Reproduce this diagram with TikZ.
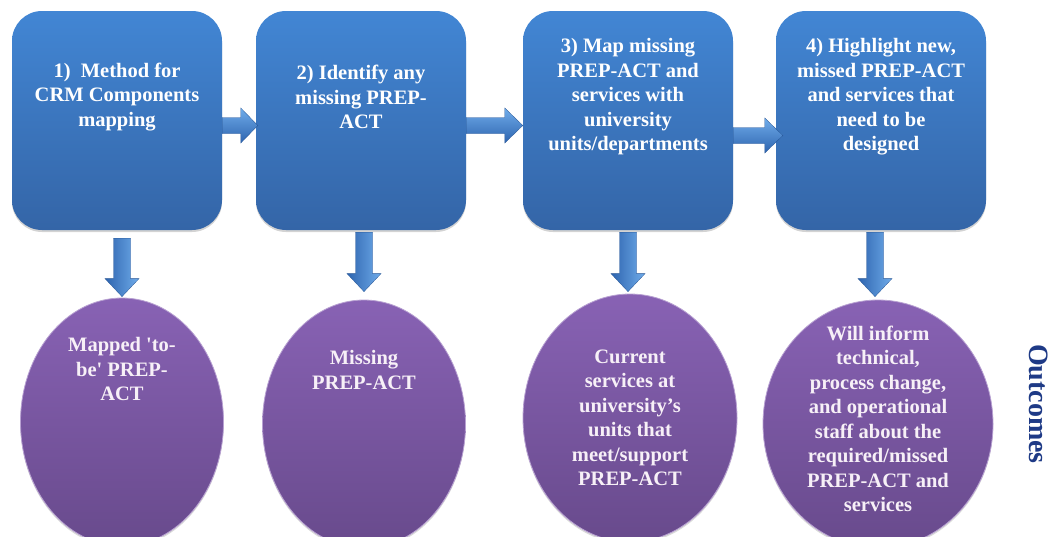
\documentclass[tikz,border=0pt]{standalone}
\usepackage{fontspec}
\setmainfont{Liberation Serif}[Ligatures = TeXOff]
\usetikzlibrary{shapes.geometric, calc, shadows}
\definecolor{boxtop}{RGB}{66,134,212}
\definecolor{boxbottom}{RGB}{52,101,167}
\definecolor{ovaltop}{RGB}{136,98,180}
\definecolor{ovalbottom}{RGB}{104,74,140}
\definecolor{arrowdark}{RGB}{45,100,175}
\definecolor{arrowmid}{RGB}{62,126,205}
\definecolor{arrowlight}{RGB}{112,172,234}
\definecolor{outcomeblue}{RGB}{30,58,134}
\newcommand{\rightblock}[3]{\path[blockR] let \p1 = #1, \p2 = #2 in (\x1, \y2 + 8pt) -- (\x2 - #3, \y2 + 8pt) -- (\x2 - #3, \y2 + 17.5pt) -- (\x2, \y2) -- (\x2 - #3, \y2 - 17.5pt) -- (\x2 - #3, \y2 - 8pt) -- (\x1, \y2 - 8pt) -- cycle;}
\newcommand{\downblock}[2]{\path[blockD] let \p1 = #1, \p2 = #2 in (\x1 - 8.5pt, \y1) -- (\x1 + 8.5pt, \y1) -- (\x1 + 8.5pt, \y2 + 18pt) -- (\x1 + 17pt, \y2 + 18pt) -- (\x1, \y2) -- (\x1 - 17pt, \y2 + 18pt) -- (\x1 - 8.5pt, \y2 + 18pt) -- cycle;}
\begin{document}
\begin{tikzpicture}[x = 1pt, y = -1pt,
	stepbox/.style = {rounded corners = 30pt, minimum width = 210pt, minimum height = 219pt, inner sep = 0pt, top color = boxtop, bottom color = boxbottom, drop shadow = {opacity = 0.35, shadow xshift = 0pt, shadow yshift = -2pt}},
	steptext/.style = {align = center, text = white, font = \bfseries\fontsize{20.5}{24.5}\selectfont},
	oval/.style = {ellipse, minimum height = 248pt, inner sep = 0pt, top color = ovaltop, bottom color = ovalbottom, draw = ovaltop!60!white, line width = 0.8pt, drop shadow = {opacity = 0.3, shadow xshift = 0pt, shadow yshift = -2pt}},
	ovaltext/.style = {align = center, text = white!94!violet, font = \bfseries\fontsize{20.5}{24.5}\selectfont},
	blockR/.style = {top color = arrowlight, middle color = arrowmid, bottom color = arrowdark, draw = arrowdark!85!black, line width = 0.3pt},
	blockD/.style = {left color = arrowdark, middle color = arrowmid, right color = arrowlight, draw = arrowdark!85!black, line width = 0.3pt}]
	\useasboundingbox (0, 0) rectangle (1052, 536);
	\clip (0, 0) rectangle (1052, 536);
	\node[stepbox] (b1) at (117, 120.5) {};
		\node[steptext] (t1) at (117, 97) {1)\ \ Method for\\CRM Components\\mapping};
	\node[stepbox] (b2) at (361, 120.5) {};
		\node[steptext] (t2) at (361, 97) {2) Identify any\\missing PREP-\\ACT};
	\node[stepbox] (b3) at (628, 120.5) {};
		\node[steptext] (t3) at (628, 97) {3) Map missing\\PREP-ACT and\\services with\\university\\units/departments};
	\node[stepbox] (b4) at (881, 120.5) {};
		\node[steptext] (t4) at (881, 97) {4) Highlight new,\\missed PREP-ACT\\and services that\\need to be\\designed};
	\node[oval, minimum width = 203pt] (e1) at (122, 422) {};
		\node[ovaltext] (o1) at (122, 369) {Mapped 'to-\\be' PREP-\\ACT};
	\node[oval, minimum width = 203pt] (e2) at (364, 424) {};
		\node[ovaltext] (o2) at (364, 370) {Missing\\PREP-ACT};
	\node[oval, minimum width = 214pt] (e3) at (630, 418) {};
		\node[ovaltext] (o3) at (630, 418) {Current\\services at\\university’s\\units that\\meet/support\\PREP-ACT};
	\node[oval, minimum width = 230pt] (e4) at (878, 424) {};
		\node[ovaltext] (o4) at (878, 419) {Will inform\\technical,\\process change,\\and operational\\staff about the\\required/missed\\PREP-ACT and\\services};
	\rightblock{(b1.east)}{([xshift = 2pt, yshift = -5pt]b2.west)}{17pt}
	\rightblock{(b2.east)}{([yshift = -5pt]b3.west)}{18pt}
	\rightblock{(b3.east)}{([xshift = 7pt, yshift = -15pt]b4.west)}{18pt}
	\downblock{($(b1.south -| e1.north) + (0, 8)$)}{($(e1.north) + (0, -1)$)}
	\downblock{($(b2.south -| e2.north) + (0, 2)$)}{($(e2.north) + (0, -8)$)}
	\downblock{($(b3.south -| e3.north) + (-2, 2)$)}{($(e3.north) + (-2, -2)$)}
	\downblock{($(b4.south -| e4.north) + (-3, 2)$)}{($(e4.north) + (-3, -3)$)}
	\node[rotate = -90, text = outcomeblue, font = \bfseries\fontsize{28}{32}\selectfont] (oc) at (1039, 404) {Outcomes};
\end{tikzpicture}
\end{document}
